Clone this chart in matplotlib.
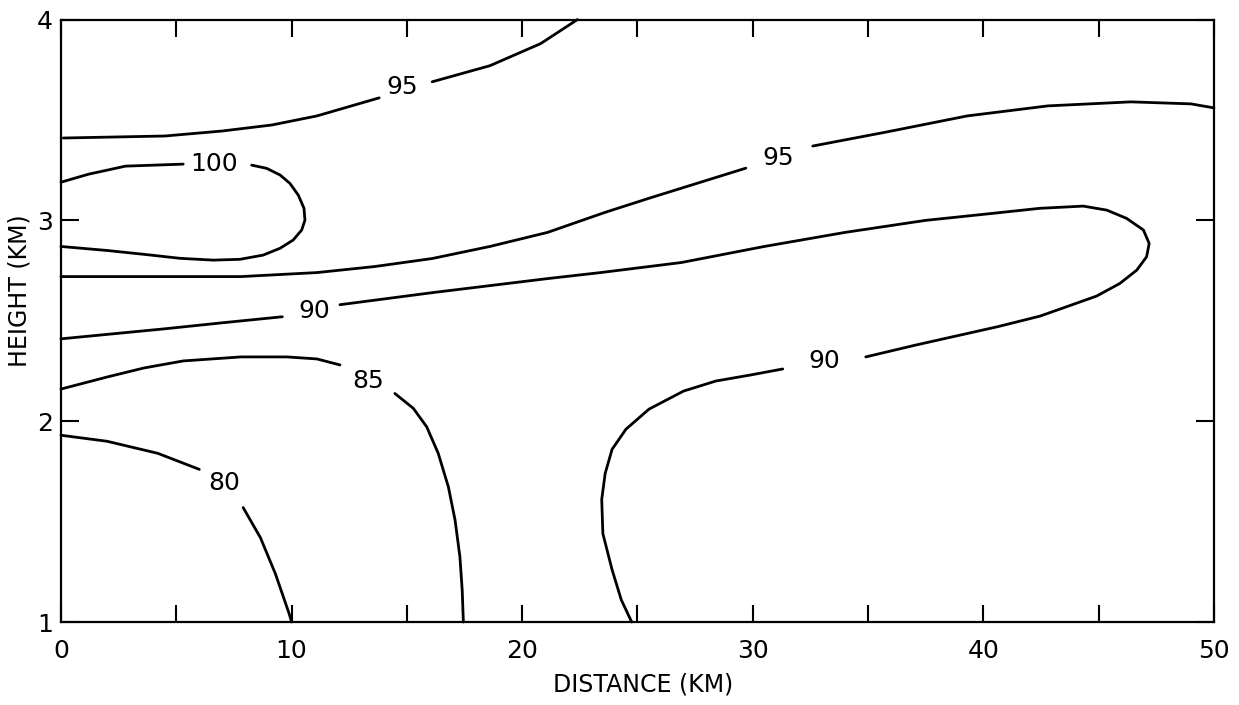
import numpy as np
import matplotlib
matplotlib.use("Agg")
import matplotlib.pyplot as plt
from matplotlib.ticker import MultipleLocator

# ===== data (distance km, height km) =====
# 80 contour, two pieces around its label
c80_a_x = [0.0, 2.0, 4.2, 6.0]
c80_a_y = [1.93, 1.90, 1.84, 1.76]
c80_b_x = [7.9, 8.65, 9.3, 9.9, 10.0]
c80_b_y = [1.57, 1.42, 1.24, 1.04, 1.0]

# 85 contour
c85_a_x = [0.0, 2.0, 3.6, 5.3, 7.8, 9.8, 11.1, 12.1]
c85_a_y = [2.16, 2.22, 2.265, 2.30, 2.32, 2.32, 2.31, 2.28]
c85_b_x = [14.48, 15.28, 15.86, 16.36, 16.8, 17.09, 17.3, 17.4, 17.45]
c85_b_y = [2.138, 2.064, 1.972, 1.84, 1.673, 1.508, 1.325, 1.159, 1.0]

# 90 contour, upper closed tongue (left edge -> tip -> back down to bottom)
c90_a_x = [0.0, 4.5, 7.0, 9.6]
c90_a_y = [2.41, 2.46, 2.49, 2.52]
c90_b_x = [12.1, 16.1, 21.1, 23.4, 25.5, 26.9, 30.5, 34.0, 37.5, 40.0, 42.45,
           44.33, 45.35, 46.21, 46.94, 47.19, 47.08, 46.65, 45.92, 44.91, 43.61,
           42.45, 40.6, 37.1, 34.9]
c90_b_y = [2.58, 2.64, 2.71, 2.74, 2.77, 2.79, 2.87, 2.94, 3.00, 3.03, 3.06,
           3.071, 3.051, 3.01, 2.952, 2.885, 2.819, 2.752, 2.686, 2.623, 2.57,
           2.523, 2.47, 2.38, 2.32]
c90_c_x = [31.3, 29.9, 28.4, 27.0, 25.5, 24.5, 23.9, 23.6, 23.45, 23.5, 23.9, 24.3, 24.75]
c90_c_y = [2.26, 2.23, 2.20, 2.15, 2.06, 1.96, 1.86, 1.74, 1.61, 1.44, 1.26, 1.11, 1.0]

# 95 contour, lower branch
c95l_a_x = [0.0, 4.5, 7.8, 11.1, 13.6, 16.1, 18.6, 21.1, 23.6, 25.5, 26.9, 29.7]
c95l_a_y = [2.72, 2.72, 2.72, 2.74, 2.77, 2.81, 2.87, 2.94, 3.04, 3.11, 3.16, 3.26]
c95l_b_x = [32.6, 35.8, 39.3, 42.8, 46.4, 49.0, 50.0]
c95l_b_y = [3.37, 3.44, 3.52, 3.57, 3.59, 3.58, 3.56]

# 95 contour, upper branch
c95u_a_x = [0.1, 4.5, 7.0, 9.15, 11.1, 13.8]
c95u_a_y = [3.41, 3.42, 3.445, 3.475, 3.52, 3.61]
c95u_b_x = [16.1, 18.6, 20.8, 22.4]
c95u_b_y = [3.69, 3.77, 3.88, 4.0]

# 100 contour
c100_a_x = [0.0, 1.2, 2.8, 5.3]
c100_a_y = [3.19, 3.23, 3.27, 3.28]
c100_b_x = [8.27, 8.92, 9.5, 9.93, 10.29, 10.54, 10.58, 10.44, 10.07, 9.5,
            8.77, 7.76, 6.6, 5.16, 3.67, 2.0, 0.0]
c100_b_y = [3.275, 3.259, 3.226, 3.184, 3.126, 3.06, 3.001, 2.952, 2.902, 2.861,
            2.827, 2.806, 2.802, 2.811, 2.83, 2.85, 2.87]

# contour labels: text, x, y
label_text = ["80", "85", "90", "90", "95", "95", "100"]
label_x = [7.1, 13.3, 11.0, 33.1, 31.1, 14.8, 6.66]
label_y = [1.69, 2.2, 2.55, 2.3, 3.31, 3.665, 3.28]

x_ticks = [0, 10, 20, 30, 40, 50]
y_ticks = [1, 2, 3, 4]

# ===== plot =====
plt.rcParams.update({
    "font.family": "DejaVu Sans",
    "font.size": 17,
})

fig = plt.figure(figsize=(12.39, 7.05), dpi=100)
ax = fig.add_axes([0.0492, 0.1177, 0.9306, 0.8546])

pieces = [
    (c80_a_x, c80_a_y), (c80_b_x, c80_b_y),
    (c85_a_x, c85_a_y), (c85_b_x, c85_b_y),
    (c90_a_x, c90_a_y), (c90_b_x, c90_b_y), (c90_c_x, c90_c_y),
    (c95l_a_x, c95l_a_y), (c95l_b_x, c95l_b_y),
    (c95u_a_x, c95u_a_y), (c95u_b_x, c95u_b_y),
    (c100_a_x, c100_a_y), (c100_b_x, c100_b_y),
]
for px, py in pieces:
    ax.plot(px, py, color="black", lw=2.0, solid_capstyle="round",
            solid_joinstyle="round", clip_on=False)

for t, lx, ly in zip(label_text, label_x, label_y):
    ax.text(lx, ly, t, ha="center", va="center", fontsize=18)

ax.set_xlim(0, 50)
ax.set_ylim(1, 4)
ax.set_xticks(x_ticks)
ax.xaxis.set_minor_locator(MultipleLocator(5))
ax.set_yticks(y_ticks)

ax.tick_params(axis="x", which="both", direction="in", length=12, width=1.5,
               top=True, bottom=True, pad=12, labelsize=18)
ax.tick_params(axis="y", which="both", direction="in", length=13, width=1.5,
               left=True, right=True, pad=6, labelsize=18)
for s in ax.spines.values():
    s.set_linewidth(1.6)

ax.set_xlabel("DISTANCE (KM)", fontsize=17, va="center")
ax.xaxis.set_label_coords(0.505, -0.104)
ax.set_ylabel("HEIGHT (KM)", fontsize=17, va="center", ha="center")
ax.yaxis.set_label_coords(-0.036, 0.55)

fig.savefig("out.png", dpi=100)
